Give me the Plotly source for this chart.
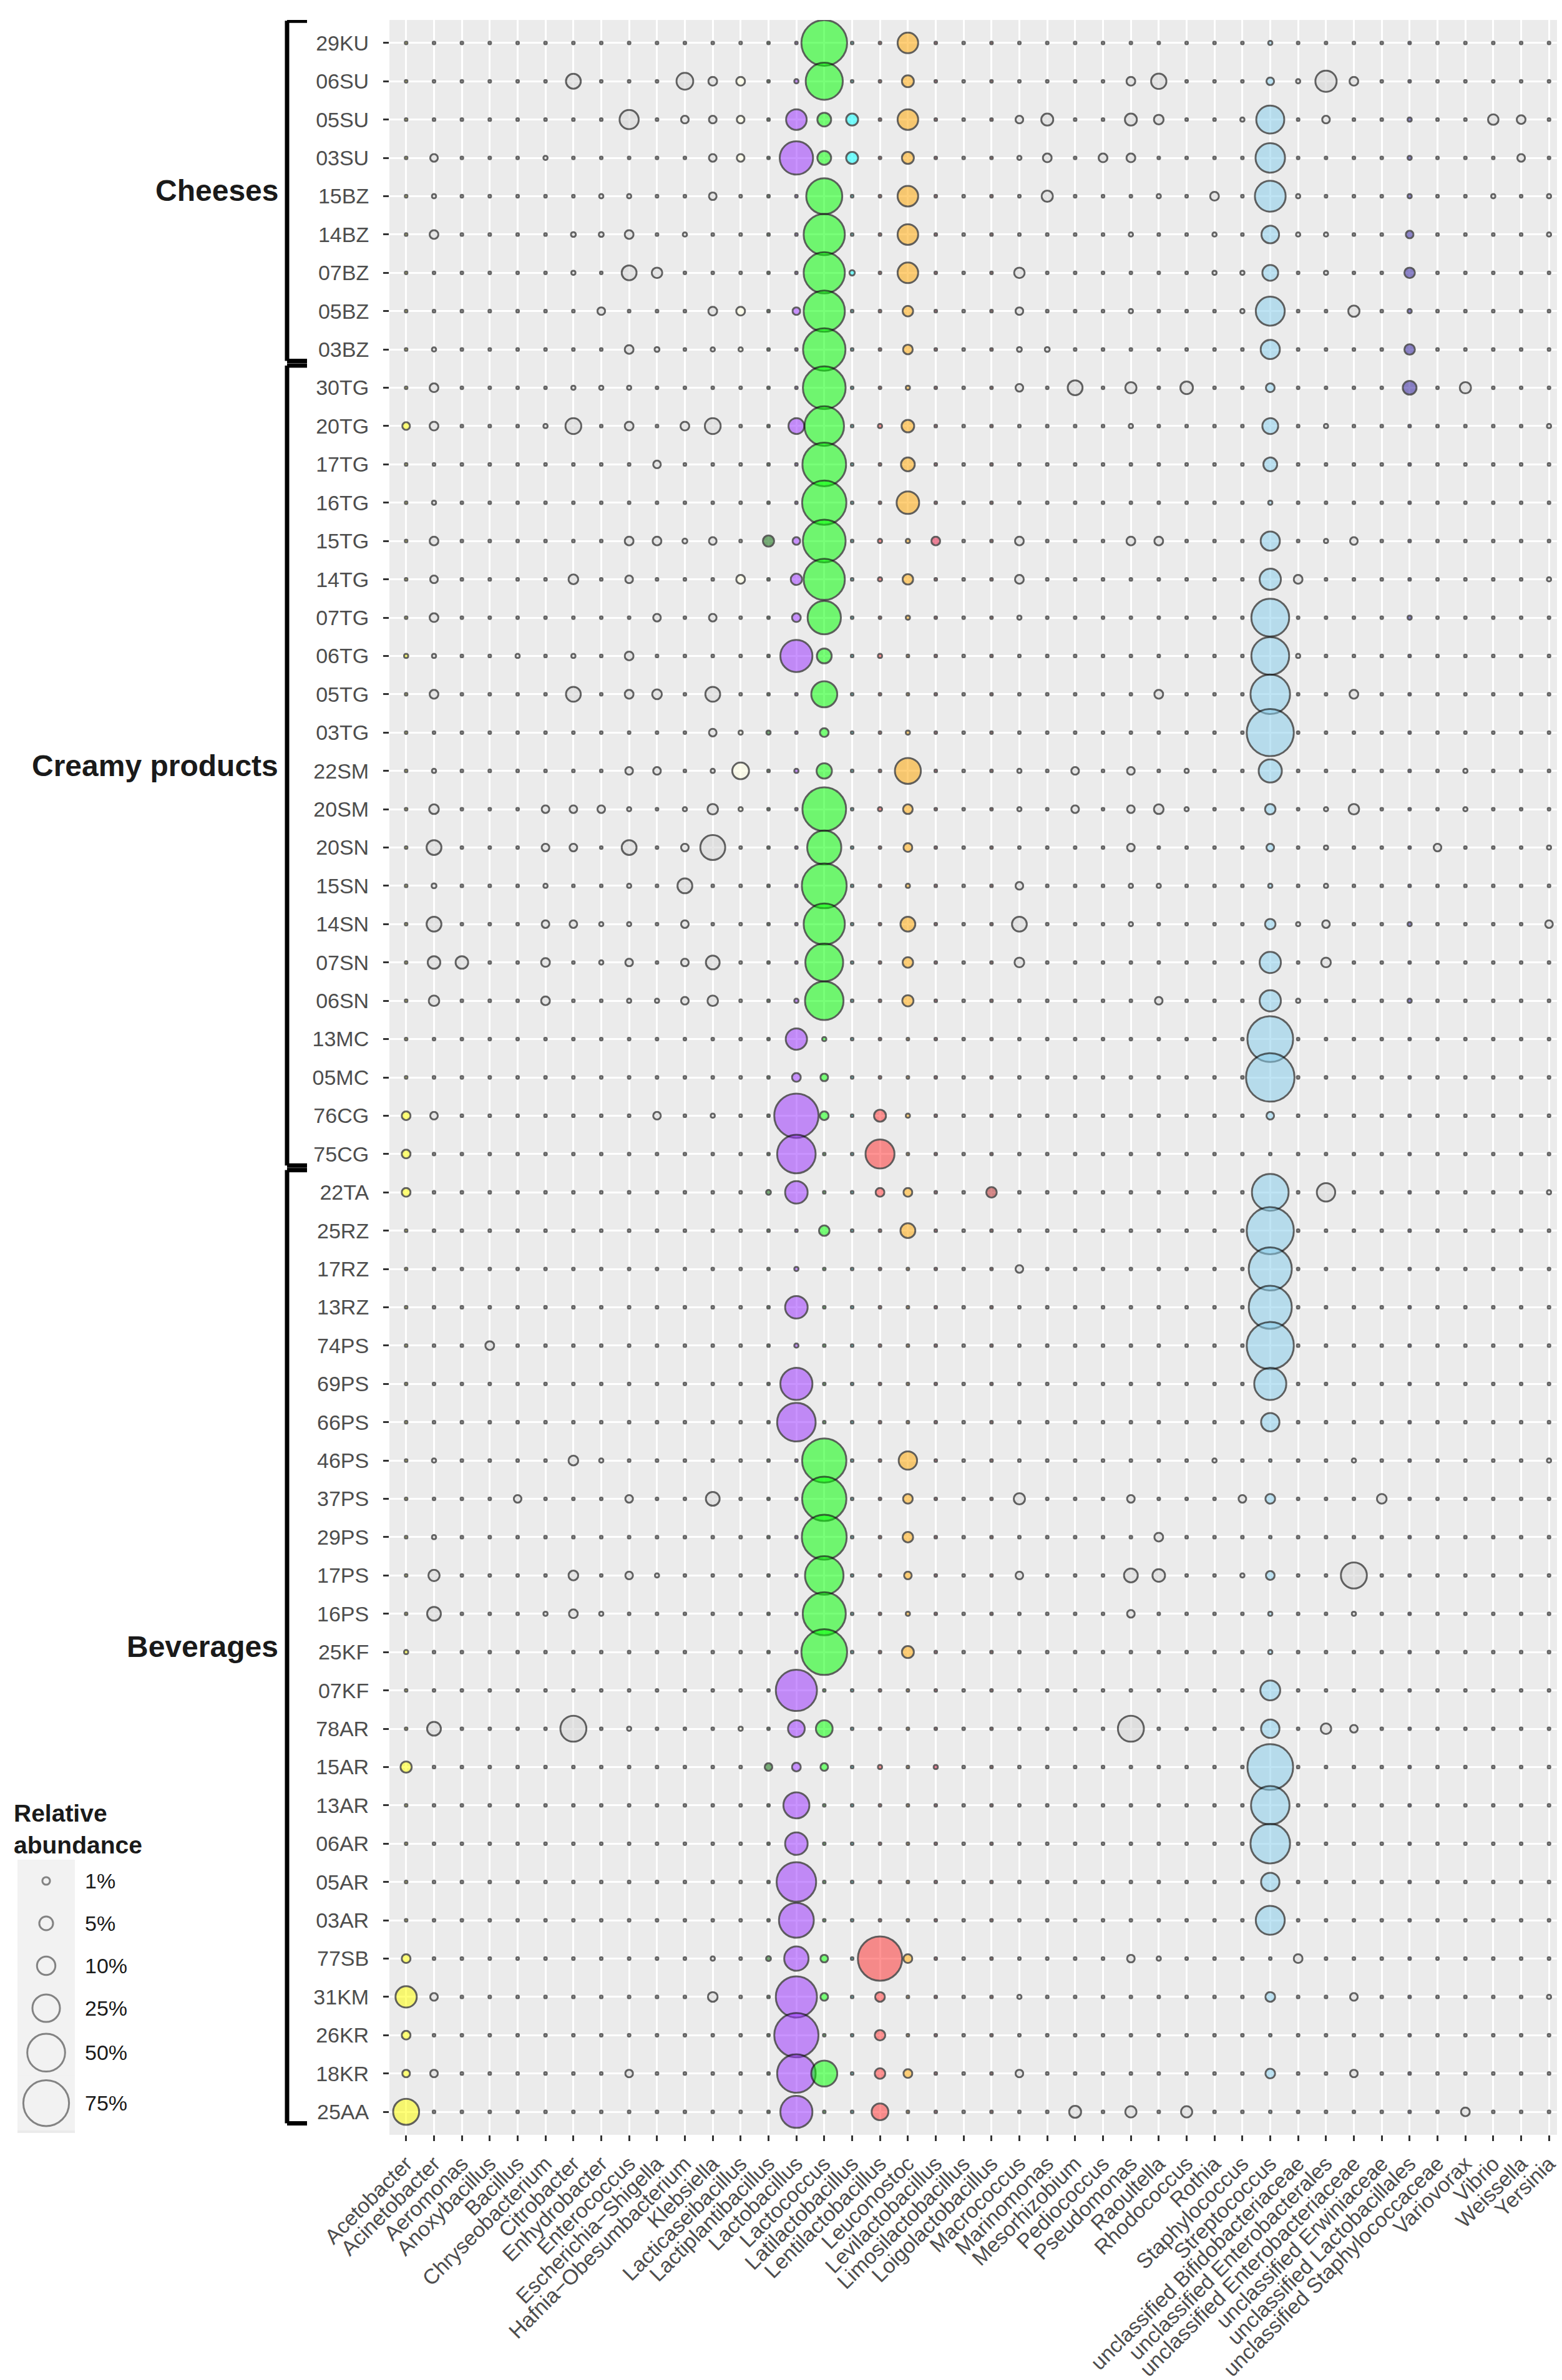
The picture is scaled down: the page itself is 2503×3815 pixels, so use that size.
import numpy as np
import plotly.graph_objects as go

# samples, top to bottom
samples = ["29KU", "06SU", "05SU", "03SU", "15BZ", "14BZ", "07BZ", "05BZ", "03BZ",
           "30TG", "20TG", "17TG", "16TG", "15TG", "14TG", "07TG", "06TG", "05TG", "03TG",
           "22SM", "20SM", "20SN", "15SN", "14SN", "07SN", "06SN", "13MC", "05MC", "76CG", "75CG",
           "22TA", "25RZ", "17RZ", "13RZ", "74PS", "69PS", "66PS", "46PS", "37PS", "29PS",
           "17PS", "16PS", "25KF", "07KF", "78AR", "15AR", "13AR", "06AR", "05AR", "03AR",
           "77SB", "31KM", "26KR", "18KR", "25AA"]

groups = [("Cheeses", 0, 8), ("Creamy products", 9, 29), ("Beverages", 30, 54)]

genera = ["Acetobacter", "Acinetobacter", "Aeromonas", "Anoxybacillus", "Bacillus",
          "Chryseobacterium", "Citrobacter", "Enhydrobacter", "Enterococcus",
          "Escherichia\u2212Shigella", "Hafnia\u2212Obesumbacterium", "Klebsiella",
          "Lacticaseibacillus", "Lactiplantibacillus", "Lactobacillus", "Lactococcus",
          "Latilactobacillus", "Lentilactobacillus", "Leuconostoc", "Levilactobacillus",
          "Limosilactobacillus", "Loigolactobacillus", "Macrococcus", "Marinomonas",
          "Mesorhizobium", "Pediococcus", "Pseudomonas", "Raoultella", "Rhodococcus",
          "Rothia", "Staphylococcus", "Streptococcus", "unclassified Bifidobacteriaceae",
          "unclassified Enterobacterales", "unclassified Enterobacteriaceae",
          "unclassified Erwiniaceae", "unclassified Lactobacillales",
          "unclassified Staphylococcaceae", "Variovorax", "Vibrio", "Weissella", "Yersinia"]

# relative abundance (%), one value per sample in the order above
lactococcus = [75, 48, 5, 5, 45, 60, 60, 60, 64,
               65, 55, 68, 70, 65, 60, 38, 6, 22, 1.5, 6.5, 68, 40, 72, 60, 50, 52, 0.1, 1, 1.5, 0,
               0, 2.5, 0, 0, 0, 0, 0, 70, 70, 72, 52, 66, 75, 0, 8, 1, 0, 0, 0, 0, 1, 1, 0, 22, 0]
lactobacillus = [0, 0.1, 13, 38, 0, 0, 0, 1, 0,
                 0, 7, 0, 0, 1, 3, 1.5, 35, 0, 0, 0.1, 0, 0, 0, 0, 0, 0.1, 14, 1.5, 70, 52,
                 16, 0, 0.1, 16, 0.1, 35, 52, 0, 0, 0, 0, 0, 0, 60, 8, 1.5, 22, 16, 55, 42,
                 19, 60, 70, 52, 35]
streptococcus = [0.1, 1, 26, 29, 32, 9, 7, 28, 11,
                 1.5, 7, 5, 0.1, 11, 14, 50, 50, 55, 80, 17, 2.5, 1, 0.1, 2.5, 14, 14, 75, 85, 1, 0,
                 47, 80, 66, 66, 80, 35, 10, 0, 2, 0, 1.5, 0.1, 0.1, 12, 10, 75, 52, 55, 10, 28,
                 0, 2, 0, 2, 0]
leuconostoc = [13, 3.5, 13, 3.5, 13, 13, 13, 2.5, 2,
               0.1, 4, 5, 16, 0.1, 2.5, 0.1, 0, 0, 0.1, 22, 2, 1.5, 0.1, 6, 2.5, 3, 0, 0, 0.1, 0,
               1.5, 6, 0, 0, 0, 0, 0, 10, 2, 2.5, 1, 0.1, 3.5, 0, 0, 0, 0, 0, 0, 0,
               1.5, 0, 0, 1.5, 0]

# sparse genera: sample -> relative abundance (%), every other cell is 0
acetobacter = {"20TG": 1, "06TG": 0.1, "76CG": 1.5, "75CG": 1.5, "22TA": 1.5, "25KF": 0.1,
               "15AR": 3, "77SB": 1.5, "31KM": 14, "26KR": 1.5, "18KR": 1, "25AA": 22}
latilactobacillus = {"05SU": 3.5, "03SU": 3.5, "07BZ": 0.3}
lentilactobacillus = {"20TG": 0.1, "15TG": 0.1, "14TG": 0.1, "06TG": 0.1, "20SM": 0.1,
                      "76CG": 3.5, "75CG": 28, "22TA": 1.5, "15AR": 0.1, "77SB": 70,
                      "31KM": 2, "26KR": 2.5, "18KR": 2.5, "25AA": 8}
lacticaseibacillus = {"06SU": 1.5, "05SU": 1, "03SU": 1, "05BZ": 1.5, "03BZ": 0.1,
                      "14TG": 1.5, "03TG": 0.1, "22SM": 8, "20SM": 0.1, "78AR": 0.1}
lactiplantibacillus = {"15TG": 3, "03TG": 0.1, "22TA": 0.2, "15AR": 1, "77SB": 0.2}
levilactobacillus = {"15TG": 1.5, "15AR": 0.1}
loigolactobacillus = {"22TA": 2.5}
uncl_lactobacillales = {"05SU": 0.1, "03SU": 0.1, "15BZ": 0.1, "14BZ": 1, "07BZ": 2.5,
                        "05BZ": 0.1, "03BZ": 2.5, "30TG": 5, "07TG": 0.1, "14SN": 0.1,
                        "06SN": 0.1}

minor = {
    "Acinetobacter": {"03SU": 1, "15BZ": 0.1, "14BZ": 1.5, "03BZ": 0.1, "30TG": 1.5, "20TG": 1.5,
                      "16TG": 0.1, "15TG": 1.5, "14TG": 1, "07TG": 1.5, "06TG": 0.1, "05TG": 1.5,
                      "22SM": 0.1, "20SM": 2, "20SN": 6, "15SN": 0.2, "14SN": 6, "07SN": 4,
                      "06SN": 2.5, "76CG": 1, "46PS": 0.1, "29PS": 0.1, "17PS": 3, "16PS": 5,
                      "78AR": 5, "31KM": 1, "18KR": 1},
    "Aeromonas": {"07SN": 4},
    "Anoxybacillus": {"74PS": 1.5},
    "Bacillus": {"06TG": 0.1, "37PS": 1},
    "Chryseobacterium": {"03SU": 0.1, "20TG": 0.1, "20SM": 1, "20SN": 1, "15SN": 0.1,
                         "14SN": 1, "07SN": 1.5, "06SN": 1.5, "16PS": 0.1},
    "Citrobacter": {"06SU": 6, "14BZ": 0.2, "07BZ": 0.1, "30TG": 0.1, "20TG": 7, "14TG": 2,
                    "06TG": 0.1, "05TG": 6, "20SM": 1, "20SN": 1, "14SN": 1, "46PS": 2,
                    "17PS": 2, "16PS": 1.5, "78AR": 22},
    "Enhydrobacter": {"15BZ": 0.1, "14BZ": 0.2, "05BZ": 1, "30TG": 0.1, "20SM": 1,
                      "14SN": 0.1, "07SN": 0.1, "46PS": 0.1, "16PS": 0.1},
    "Enterococcus": {"05SU": 11, "15BZ": 0.1, "14BZ": 1.5, "07BZ": 6, "03BZ": 1.5, "30TG": 0.1,
                     "20TG": 1.5, "15TG": 1.5, "14TG": 1, "06TG": 1.5, "05TG": 1.5, "22SM": 1,
                     "20SM": 0.1, "20SN": 6, "15SN": 0.1, "14SN": 0.1, "07SN": 1, "06SN": 0.1,
                     "37PS": 1, "17PS": 1, "78AR": 0.1, "18KR": 1},
    "Escherichia\u2212Shigella": {"07BZ": 2.5, "03BZ": 0.2, "17TG": 1, "15TG": 1.5, "07TG": 1,
                                  "05TG": 2, "22SM": 1, "06SN": 0.1, "76CG": 1, "17PS": 0.1},
    "Hafnia\u2212Obesumbacterium": {"06SU": 8, "05SU": 1, "14BZ": 0.1, "20TG": 1.5, "15TG": 0.2,
                                    "20SM": 0.1, "20SN": 1, "15SN": 6, "14SN": 1, "07SN": 1,
                                    "06SN": 1},
    "Klebsiella": {"06SU": 1.5, "05SU": 1, "03SU": 1, "15BZ": 1, "05BZ": 1.5, "03BZ": 0.1,
                   "20TG": 7, "15TG": 1, "07TG": 1, "05TG": 6, "03TG": 1, "22SM": 0.1,
                   "20SM": 2.5, "20SN": 20, "07SN": 5, "06SN": 2.5, "76CG": 0.1, "37PS": 5,
                   "77SB": 0.1, "31KM": 2},
    "Macrococcus": {"05SU": 1, "03SU": 0.1, "07BZ": 2.5, "05BZ": 1, "03BZ": 0.2, "30TG": 1,
                    "15TG": 1.5, "14TG": 1.5, "07TG": 0.1, "22SM": 0.1, "20SM": 0.1, "15SN": 1,
                    "14SN": 6, "07SN": 2, "17RZ": 1, "37PS": 3, "17PS": 1, "31KM": 0.1,
                    "18KR": 1},
    "Marinomonas": {"05SU": 3.5, "03SU": 1.5, "15BZ": 3, "03BZ": 0.2},
    "Mesorhizobium": {"30TG": 6, "22SM": 1, "20SM": 1, "25AA": 3.5},
    "Pediococcus": {"03SU": 1.5},
    "Pseudomonas": {"06SU": 1.5, "05SU": 3.5, "03SU": 1.5, "14BZ": 0.1, "05BZ": 0.1, "30TG": 3,
                    "20TG": 0.1, "15TG": 1.5, "22SM": 1, "20SM": 1, "20SN": 1, "15SN": 0.1,
                    "14SN": 0.1, "37PS": 1, "17PS": 5, "16PS": 1, "78AR": 22, "77SB": 1,
                    "25AA": 3},
    "Raoultella": {"06SU": 6.5, "05SU": 2, "15BZ": 0.1, "15TG": 1.5, "05TG": 1.5, "20SM": 2,
                   "15SN": 0.1, "06SN": 1, "29PS": 1.5, "17PS": 4, "77SB": 0.1},
    "Rhodococcus": {"30TG": 4, "22SM": 0.1, "20SM": 0.1, "25AA": 3},
    "Rothia": {"15BZ": 1.5, "14BZ": 0.1, "07BZ": 0.1, "46PS": 0.1},
    "Staphylococcus": {"05SU": 0.1, "07BZ": 0.1, "05BZ": 0.1, "37PS": 1, "17PS": 0.1},
    "unclassified Bifidobacteriaceae": {"06SU": 0.1, "15BZ": 0.1, "14BZ": 0.1, "14TG": 1.5,
                                        "06TG": 0.1, "14SN": 0.1, "06SN": 0.1, "77SB": 1.5},
    "unclassified Enterobacterales": {"06SU": 14, "05SU": 1, "14BZ": 0.1, "07BZ": 0.1,
                                      "20TG": 0.1, "15TG": 0.1, "20SM": 0.1, "20SN": 0.1,
                                      "15SN": 0.1, "14SN": 1, "07SN": 2, "22TA": 10,
                                      "78AR": 2.5},
    "unclassified Enterobacteriaceae": {"06SU": 1.5, "05BZ": 3, "15TG": 1, "05TG": 1.5,
                                        "20SM": 2.5, "46PS": 0.1, "17PS": 22, "16PS": 0.1,
                                        "78AR": 1, "31KM": 1, "18KR": 1},
    "unclassified Erwiniaceae": {"37PS": 2},
    "unclassified Staphylococcaceae": {"20SN": 1},
    "Variovorax": {"30TG": 3, "22SM": 0.1, "20SM": 0.1, "25AA": 1.5},
    "Vibrio": {"05SU": 2.5, "15BZ": 0.1},
    "Weissella": {"05SU": 1.5, "03SU": 1},
    "Yersinia": {"15BZ": 0.1, "14BZ": 0.1, "20TG": 0.1, "14TG": 0.1, "20SN": 0.1, "14SN": 1,
                 "22TA": 0.1, "46PS": 0.1, "31KM": 0.1},
}

legend_levels = [1, 5, 10, 25, 50, 75]
legend_labels = ["1%", "5%", "10%", "25%", "50%", "75%"]

fills = {
    "Acetobacter": "#FFFF00", "Lacticaseibacillus": "#FFFFE0", "Lactiplantibacillus": "#006400",
    "Lactobacillus": "#9933FF", "Lactococcus": "#00FF00", "Latilactobacillus": "#00FFFF",
    "Lentilactobacillus": "#FF3333", "Leuconostoc": "#FFA500", "Levilactobacillus": "#DC143C",
    "Loigolactobacillus": "#B22222", "Streptococcus": "#87CEEB",
    "unclassified Lactobacillales": "#2A1A9A",
}
other_fill = "#D3D3D3"

# collect every cell of the grid
abund = {g: dict(v) for g, v in minor.items()}
abund["Lactococcus"] = dict(zip(samples, lactococcus))
abund["Lactobacillus"] = dict(zip(samples, lactobacillus))
abund["Streptococcus"] = dict(zip(samples, streptococcus))
abund["Leuconostoc"] = dict(zip(samples, leuconostoc))
abund["Acetobacter"] = acetobacter
abund["Latilactobacillus"] = latilactobacillus
abund["Lentilactobacillus"] = lentilactobacillus
abund["Lacticaseibacillus"] = lacticaseibacillus
abund["Lactiplantibacillus"] = lactiplantibacillus
abund["Levilactobacillus"] = levilactobacillus
abund["Loigolactobacillus"] = loigolactobacillus
abund["unclassified Lactobacillales"] = uncl_lactobacillales


def bubble(v):
    # area scale, 0 -> small dot
    return 4.25 + 7.97 * np.sqrt(np.asarray(v, dtype=float))


def rgba(hex_col, a=0.75):
    h = hex_col.lstrip("#")
    r, g, b = int(h[0:2], 16), int(h[2:4], 16), int(h[4:6], 16)
    return f"rgba({r},{g},{b},{a})"


xs, ys, vals, cols = [], [], [], []
for g in genera:
    col = rgba(fills.get(g, other_fill))
    for s in samples:
        xs.append(g)
        ys.append(s)
        vals.append(abund.get(g, {}).get(s, 0))
        cols.append(col)

W, H = 2503, 3815
px_l, px_r, px_t, px_b = 616, 2501, 24, 3414

fig = go.Figure()
fig.add_trace(go.Scatter(
    x=xs, y=ys, mode="markers",
    marker=dict(size=bubble(vals), color=cols,
                line=dict(color="rgba(15,15,15,0.9)", width=3)),
    customdata=vals,
    hovertemplate="%{x}<br>%{y}: %{customdata}%<extra></extra>",
    showlegend=False,
))

# size legend in the bottom-left corner
leg_top, leg_bot = 2973, 3411
sizes_leg = bubble(legend_levels)
key_h = np.maximum(68, sizes_leg + 14)
centers = leg_top + np.cumsum(key_h) - key_h / 2
fig.add_trace(go.Scatter(
    x=[66] * len(legend_levels), y=centers, mode="markers",
    marker=dict(size=sizes_leg, color="rgba(255,255,255,0)",
                line=dict(color="#555555", width=3)),
    xaxis="x2", yaxis="y2", showlegend=False, hoverinfo="skip",
))

tickfont = dict(family="Liberation Sans, Arial, sans-serif", size=34, color="#4D4D4D")
fig.update_layout(
    width=W, height=H,
    margin=dict(l=0, r=0, t=0, b=0),
    paper_bgcolor="white", plot_bgcolor="#EBEBEB",
    font=dict(family="Liberation Sans, Arial, sans-serif"),
    xaxis=dict(type="category", categoryorder="array", categoryarray=genera,
               range=[-0.6, len(genera) - 0.4],
               domain=[px_l / W, px_r / W], anchor="y",
               showgrid=True, gridcolor="white", gridwidth=2.5, zeroline=False,
               ticks="outside", ticklen=9, tickwidth=2.5, tickcolor="#333333",
               tickangle=-45, tickfont=tickfont, automargin=False, showline=False,
               ticklabelstandoff=3),
    yaxis=dict(type="category", categoryorder="array", categoryarray=samples,
               range=[len(samples) - 0.4, -0.6],
               domain=[1 - px_b / H, 1 - px_t / H], anchor="x",
               showgrid=True, gridcolor="white", gridwidth=2.5, zeroline=False,
               ticks="outside", ticklen=9, tickwidth=2.5, tickcolor="#333333",
               tickfont=tickfont, automargin=False, showline=False,
               ticklabelstandoff=16),
    xaxis2=dict(domain=[20 / W, 112 / W], range=[20, 112], anchor="y2", visible=False,
                fixedrange=True),
    yaxis2=dict(domain=[1 - leg_bot / H, 1 - leg_top / H], range=[leg_bot, leg_top],
                anchor="x2", visible=False, fixedrange=True),
)

# legend key backgrounds, labels and title
shapes = []
annotations = []
edges = np.concatenate([[leg_top], leg_top + np.cumsum(key_h)])
for i, lab in enumerate(legend_labels):
    shapes.append(dict(type="rect", xref="x2", yref="y2", x0=20, x1=112,
                       y0=edges[i], y1=edges[i + 1], fillcolor="#F2F2F2",
                       line=dict(width=0), layer="below"))
    annotations.append(dict(text=lab, xref="paper", yref="paper",
                            x=126 / W, y=1 - centers[i] / H,
                            xanchor="left", yanchor="middle", showarrow=False,
                            font=dict(size=34, color="#1A1A1A")))
annotations.append(dict(text="<b>Relative<br>abundance</b>", xref="paper", yref="paper",
                        x=12 / W, y=1 - 2875 / H, xanchor="left", yanchor="top",
                        align="left", showarrow=False,
                        font=dict(size=39, color="#1A1A1A")))

# sample-type brackets
bx, arm = 452 / W, 484 / W
for name, first, last in groups:
    top, bot = first - 0.58, last + 0.3
    for seg in [(bx, top, bx, bot), (bx, top, arm, top), (bx, bot, arm, bot)]:
        shapes.append(dict(type="line", xref="paper", yref="y",
                           x0=seg[0], y0=seg[1], x1=seg[2], y1=seg[3],
                           line=dict(color="black", width=7)))
    annotations.append(dict(text=f"<b>{name}</b>", xref="paper", yref="y",
                            x=440 / W, y=(top + bot) / 2, xanchor="right",
                            yanchor="middle", showarrow=False,
                            font=dict(size=48, color="#1A1A1A")))

fig.update_layout(shapes=shapes, annotations=annotations)

fig.write_html("out.html")
